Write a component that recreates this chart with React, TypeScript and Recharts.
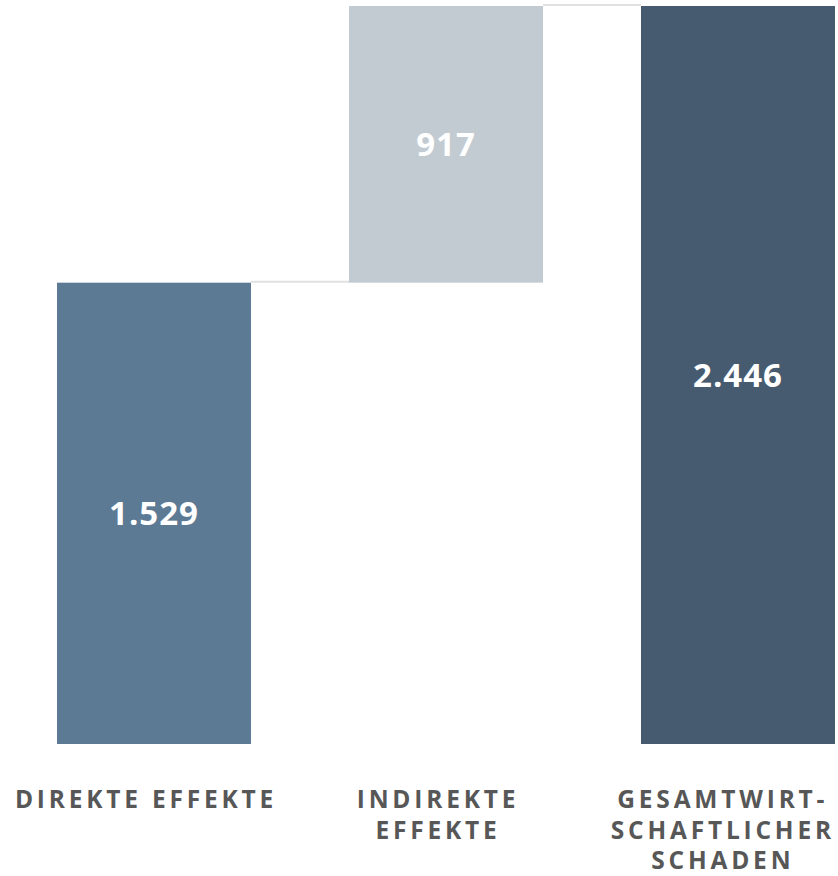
import { Bar, BarChart, Cell, LabelList, XAxis, YAxis } from "recharts"

const categories = ["Direkte Effekte", "Indirekte Effekte", "Gesamtwirtschaftlicher Schaden"]
const tickLines = [["DIREKTE EFFEKTE"], ["INDIREKTE", "EFFEKTE"], ["GESAMTWIRT-", "SCHAFTLICHER", "SCHADEN"]]
const baseValues = [0, 1529, 0]
const barValues = [1529, 917, 2446]
const barColors = ["#5d7a95", "#c3cbd2", "#465b70"]

const data = categories.map((name, i) => ({
  name,
  base: baseValues[i],
  value: barValues[i],
}))

const formatDe = (v: number) => String(v).replace(/\B(?=(\d{3})+(?!\d))/g, ".")

const BAR_GAP = 98

function StepBar(props: any) {
  const { x, y, width, height, fill, index } = props
  return (
    <g>
      <rect x={x} y={y} width={width} height={height} fill={fill} />
      {index < data.length - 1 && (
        <line x1={x + width} x2={x + width + BAR_GAP} y1={y - 1} y2={y - 1} stroke="#e1e1e1" strokeWidth={2} />
      )}
    </g>
  )
}

function CategoryTick(props: any) {
  const { x, y, payload } = props
  const lines = tickLines[payload.index] ?? [String(payload.value)]
  const longest = Math.max(...lines.map((l) => l.length))
  const half = (longest * 19.2) / 2
  const cx = Math.min(x - 8, 838 - half)
  return (
    <text
      x={cx}
      y={y + 64}
      textAnchor="middle"
      fill="#575757"
      fontSize={24.5}
      fontWeight={700}
      letterSpacing={3.8}
      fontFamily="'Open Sans', sans-serif"
    >
      {lines.map((line, i) => (
        <tspan key={line} x={cx} dy={i === 0 ? 0 : 30.5}>
          {line}
        </tspan>
      ))}
    </text>
  )
}

export default function App() {
  return (
    <div
      style={{
        position: "fixed",
        top: 0,
        left: 0,
        width: 838,
        height: 876,
        overflow: "hidden",
        background: "#fff",
        fontFamily: "'Open Sans', sans-serif",
      }}
    >
      <BarChart width={884} height={876} data={data} margin={{ top: 6, right: 0, bottom: 0, left: 8 }}>
        <XAxis
          dataKey="name"
          axisLine={false}
          tickLine={false}
          tickSize={0}
          tickMargin={0}
          height={132}
          interval={0}
          tick={<CategoryTick />}
        />
        <YAxis hide domain={[0, 2446]} />
        <Bar dataKey="base" stackId="a" fill="transparent" barSize={194} isAnimationActive={false} />
        <Bar dataKey="value" stackId="a" barSize={194} shape={<StepBar />} isAnimationActive={false}>
          {data.map((d, i) => (
            <Cell key={d.name} fill={barColors[i]} />
          ))}
          <LabelList
            dataKey="value"
            position="center"
            formatter={(v: any) => formatDe(Number(v))}
            fill="#ffffff"
            fontSize={33}
            fontWeight={700}
            letterSpacing={1}
            fontFamily="'Open Sans', sans-serif"
          />
        </Bar>
      </BarChart>
    </div>
  )
}
